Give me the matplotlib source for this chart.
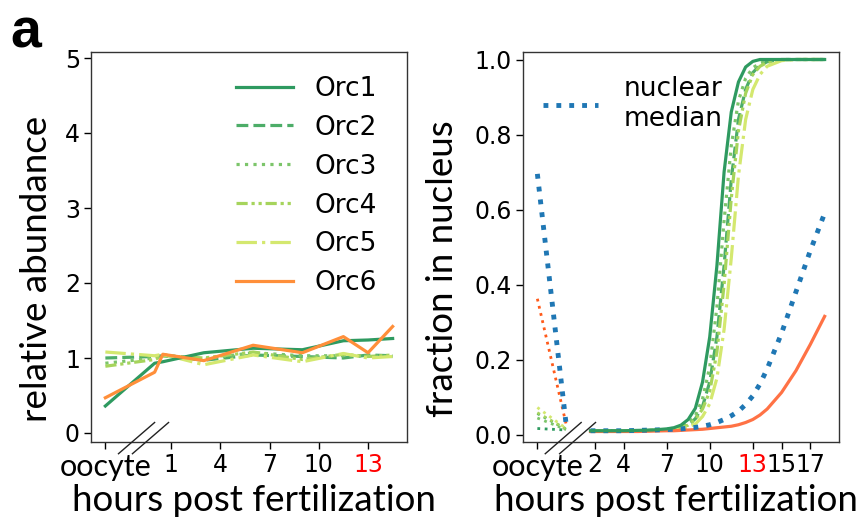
import matplotlib
matplotlib.use('Agg')
import matplotlib.pyplot as plt
import matplotlib.transforms as mtransforms

# ---------------- data: left panel (relative abundance) ----------------
t_left = [-3, 0, 0.5, 3, 6, 9, 11.5, 13, 14.5]
orc1_ab = [0.36, 0.93, 0.95, 1.07, 1.13, 1.11, 1.23, 1.24, 1.26]
orc2_ab = [1.00, 1.02, 1.03, 0.97, 1.04, 1.02, 1.00, 1.04, 1.03]
orc3_ab = [0.93, 1.00, 1.04, 0.99, 1.07, 1.03, 1.03, 1.03, 1.02]
orc4_ab = [0.89, 0.98, 1.03, 1.00, 1.08, 0.98, 1.05, 1.02, 1.04]
orc5_ab = [1.08, 1.03, 1.05, 0.91, 1.04, 0.95, 1.06, 1.00, 1.02]
orc6_ab = [0.47, 0.81, 1.05, 0.965, 1.17, 1.07, 1.285, 1.07, 1.42]

left_ticks = [-3, 1, 4, 7, 10, 13]
left_ticklabels = ['oocyte', '1', '4', '7', '10', '13']

# ---------------- data: right panel (fraction in nucleus) ----------------
t_ooc = [-2, 0]
orc1_ooc = [0.016, 0.012]
orc2_ooc = [0.056, 0.014]
orc3_ooc = [0.044, 0.013]
orc4_ooc = [0.058, 0.015]
orc5_ooc = [0.072, 0.016]
orc6_ooc = [0.362, 0.028]
median_ooc = [0.695, 0.028]

t_right = [1.7, 3, 4, 5, 6, 7, 7.5, 8, 8.5, 9, 9.5, 10, 10.5, 11, 11.5,
           12, 12.5, 13, 13.5, 14, 15, 16, 17, 18]
orc1_fn = [0.010, 0.010, 0.010, 0.011, 0.012, 0.015, 0.018, 0.025, 0.040, 0.070,
           0.140, 0.260, 0.450, 0.700, 0.860, 0.940, 0.980, 0.995, 1.000, 1.000,
           1.000, 1.000, 1.000, 1.000]
orc2_fn = [0.010, 0.010, 0.010, 0.010, 0.011, 0.012, 0.015, 0.020, 0.026, 0.042,
           0.075, 0.140, 0.260, 0.450, 0.680, 0.840, 0.920, 0.965, 0.985, 0.994,
           1.000, 1.000, 1.000, 1.000]
orc3_fn = [0.010, 0.010, 0.010, 0.010, 0.011, 0.012, 0.016, 0.021, 0.030, 0.050,
           0.095, 0.180, 0.340, 0.570, 0.770, 0.890, 0.950, 0.978, 0.990, 0.996,
           1.000, 1.000, 1.000, 1.000]
orc4_fn = [0.010, 0.010, 0.010, 0.010, 0.011, 0.012, 0.015, 0.019, 0.025, 0.040,
           0.068, 0.115, 0.220, 0.400, 0.630, 0.810, 0.910, 0.960, 0.982, 0.992,
           0.999, 1.000, 1.000, 1.000]
orc5_fn = [0.010, 0.010, 0.010, 0.010, 0.011, 0.012, 0.013, 0.016, 0.020, 0.028,
           0.048, 0.082, 0.150, 0.280, 0.470, 0.690, 0.840, 0.920, 0.960, 0.982,
           0.997, 1.000, 1.000, 1.000]
orc6_fn = [0.008, 0.008, 0.008, 0.008, 0.009, 0.010, 0.010, 0.011, 0.012, 0.013,
           0.014, 0.016, 0.018, 0.020, 0.022, 0.026, 0.032, 0.040, 0.052, 0.068,
           0.112, 0.170, 0.240, 0.315]
median_fn = [0.010, 0.010, 0.010, 0.011, 0.012, 0.013, 0.014, 0.015, 0.017, 0.019,
             0.022, 0.026, 0.032, 0.040, 0.050, 0.062, 0.080, 0.103, 0.135, 0.175,
             0.270, 0.380, 0.490, 0.590]

right_ticks = [-2, 2, 4, 7, 10, 13, 15, 17]
right_ticklabels = ['oocyte', '2', '4', '7', '10', '13', '15', '17']

names = ['Orc1', 'Orc2', 'Orc3', 'Orc4', 'Orc5', 'Orc6']

# ---------------- styles ----------------
colors = ['#2e9a60', '#4dad68', '#7cc56a', '#a6d45c', '#d4e86f', '#ff8f3a']
styles = ['-', '--', ':', (0, (3.5, 1.2, 1, 1.2, 1, 1.2)), '-.', '-']
orange_r = '#ff7245'
orange_dot = '#ff5a1a'
blue = '#1f77b4'

lab_font = 'Lato'
tick_fs = 17
leg_fs = 19
lab_fs = 26.5
ooc_fs = 22

fig = plt.figure(figsize=(8.66, 5.32), dpi=100)
ax1 = fig.add_axes([91 / 866, 90 / 532, 316 / 866, 390 / 532])
ax2 = fig.add_axes([523 / 866, 90 / 532, 316 / 866, 390 / 532])

# ---------------- left panel ----------------
left_series = [orc1_ab, orc2_ab, orc3_ab, orc4_ab, orc5_ab, orc6_ab]
for i, ys in enumerate(left_series):
    ax1.plot(t_left, ys, color=colors[i], linestyle=styles[i], lw=2.3,
             label=names[i], zorder=3 if i in (0, 5) else 2)
ax1.set_ylim(-0.12, 5.08)
ax1.set_xlim(-3.875, 15.375)
ax1.set_yticks([0, 1, 2, 3, 4, 5])
ax1.set_xticks(left_ticks)
ax1.set_xticklabels(left_ticklabels)
ax1.legend(loc='upper right', bbox_to_anchor=(0.98, 1.0), frameon=False,
           fontsize=leg_fs, handlelength=2.16, labelspacing=0.49,
           handletextpad=0.83)
ax1.set_ylabel('relative abundance', fontsize=lab_fs, family=lab_font)
ax1.set_xlabel('hours post fertilization', fontsize=lab_fs, family=lab_font, labelpad=2)

# ---------------- right panel ----------------
ooc_series = [orc1_ooc, orc2_ooc, orc3_ooc, orc4_ooc, orc5_ooc]
for i, ys in enumerate(ooc_series):
    ax2.plot(t_ooc, ys, color=colors[i], linestyle=':', lw=2.0)
ax2.plot(t_ooc, orc6_ooc, color=orange_dot, linestyle=':', lw=2.0)
ax2.plot(t_ooc, median_ooc, color=blue, linestyle=':', lw=3.5)

right_series = [orc1_fn, orc2_fn, orc3_fn, orc4_fn, orc5_fn]
for i, ys in enumerate(right_series):
    ax2.plot(t_right, ys, color=colors[i], linestyle=styles[i], lw=2.3,
             zorder=3 if i == 0 else 2)
ax2.plot(t_right, orc6_fn, color=orange_r, linestyle='-', lw=2.3)
ax2.plot(t_right, median_fn, color=blue, linestyle=':', lw=3.5, label='nuclear\nmedian')

ax2.set_ylim(-0.02, 1.02)
ax2.set_xlim(-3, 19)
ax2.set_yticks([0, 0.2, 0.4, 0.6, 0.8, 1.0])
ax2.set_xticks(right_ticks)
ax2.set_xticklabels(right_ticklabels)
ax2.legend(loc='upper left', bbox_to_anchor=(-0.012, 1.0), frameon=False,
           fontsize=leg_fs, handlelength=2.1, handletextpad=0.95)
ax2.set_ylabel('fraction in nucleus', fontsize=lab_fs, family=lab_font)
ax2.set_xlabel('hours post fertilization', fontsize=lab_fs, family=lab_font, labelpad=2)

for ax, lx, xx in ((ax1, -0.174, 0.516), (ax2, -0.256, 0.484)):
    ax.tick_params(labelsize=tick_fs, length=5, width=1, pad=3)
    for s in ax.spines.values():
        s.set_color('#333333')
        s.set_linewidth(1.0)
    for lbl in ax.get_xticklabels():
        if lbl.get_text() == '13':
            lbl.set_color('red')
        if lbl.get_text() == 'oocyte':
            lbl.set_family(lab_font)
            lbl.set_fontsize(ooc_fs)
    ax.yaxis.set_label_coords(lx, 0.444)
    ax.yaxis.label.set_verticalalignment('center')
    ax.yaxis.label.set_horizontalalignment('center')
    ax.xaxis.label.set_x(xx)

# ---------------- axis break marks ----------------
def breaks(ax, centers, half_w):
    tr = mtransforms.blended_transform_factory(ax.transData, ax.transAxes)
    for c in centers:
        ax.plot([c - half_w, c + half_w], [-0.03, 0.05], color='#222222', lw=1.0,
                transform=tr, clip_on=False, zorder=5)

breaks(ax1, [-1.1, -0.25], 1.1)
breaks(ax2, [-0.2, 0.8], 1.25)

fig.text(10 / 866, 1 - 48 / 532, 'a', fontsize=40, fontweight='bold',
         family='Liberation Sans', ha='left', va='baseline')

fig.savefig('out.png', dpi=100)
